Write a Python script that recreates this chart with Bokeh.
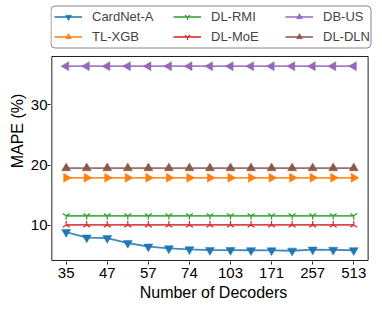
import math
from bokeh.plotting import figure
from bokeh.models import Legend, LegendItem, FixedTicker, Range1d, BoxAnnotation
from bokeh.embed import file_html
from bokeh.resources import INLINE

decoders = [35, 41, 47, 52, 57, 64, 74, 86, 103, 128, 171, 205, 257, 342, 513]
tick_labels = ["35", "47", "57", "74", "103", "171", "257", "513"]
y_ticks = [10, 20, 30]

cardnet_a = [8.9, 8.0, 7.9, 7.1, 6.5, 6.2, 6.05, 5.92, 5.92, 5.9, 5.88, 5.82, 6.0, 5.96, 5.9]
tl_xgb = [17.9, 17.9, 17.9, 17.9, 17.9, 17.9, 17.9, 17.9, 17.9, 17.9, 17.9, 17.9, 17.9, 17.9, 17.9]
dl_rmi = [11.6, 11.6, 11.6, 11.6, 11.6, 11.6, 11.6, 11.6, 11.6, 11.6, 11.6, 11.6, 11.6, 11.6, 11.6]
dl_moe = [10.1, 10.1, 10.1, 10.1, 10.1, 10.1, 10.1, 10.1, 10.1, 10.1, 10.1, 10.1, 10.1, 10.1, 10.1]
db_us = [36.4, 36.4, 36.4, 36.4, 36.4, 36.4, 36.4, 36.4, 36.4, 36.4, 36.4, 36.4, 36.4, 36.4, 36.4]
dl_dln = [19.5, 19.5, 19.5, 19.5, 19.5, 19.5, 19.5, 19.5, 19.5, 19.5, 19.5, 19.5, 19.5, 19.5, 19.5]

FONT = "Liberation Sans"
xs = list(range(len(decoders)))

# axes box of the data area (matplotlib-like limits)
X_LO, X_HI = -0.7, 14.7
Y_LO, Y_HI = 4.2, 38.0

series = [
    ("CardNet-A", cardnet_a, "#1f77b4", "inverted_triangle", 0.0),
    ("TL-XGB", tl_xgb, "#ff7f0e", "triangle", -math.pi / 2),
    ("DL-RMI", dl_rmi, "#2ca02c", "y", 0.0),
    ("DL-MoE", dl_moe, "#d62728", "y", math.pi),
    ("DB-US", db_us, "#9467bd", "triangle", math.pi / 2),
    ("DL-DLN", dl_dln, "#8c564b", "triangle", 0.0),
]

# frame extends upward/right to hold the legend; the visible axes box is drawn separately
p = figure(width=380, height=305, output_backend="svg", toolbar_location=None,
           x_range=Range1d(-0.764, 15.108), y_range=Range1d(4.035, 47.28),
           min_border_left=50, min_border_right=4, min_border_top=0, min_border_bottom=44)
p.xgrid.visible = False
p.ygrid.visible = False
p.outline_line_color = None

axes_box = BoxAnnotation(left=X_LO, right=X_HI, bottom=Y_LO, top=Y_HI,
                         fill_alpha=0, line_color="#222222", line_width=1, line_alpha=1.0)
p.add_layout(axes_box)

p.xaxis.ticker = FixedTicker(ticks=xs[::2])
p.xaxis.major_label_overrides = {i: lab for i, lab in zip(xs[::2], tick_labels)}
p.yaxis.ticker = FixedTicker(ticks=y_ticks)
for ax in (p.xaxis[0], p.yaxis[0]):
    ax.axis_line_color = None
    ax.major_tick_in = 0
    ax.major_tick_out = 3
    ax.minor_tick_line_color = None
    ax.major_tick_line_color = "#222222"
    ax.major_label_text_font = FONT
    ax.major_label_text_font_size = "15px"
    ax.major_label_text_color = "black"
    ax.axis_label_text_font = FONT
    ax.axis_label_text_font_size = "16px"
    ax.axis_label_text_font_style = "normal"
    ax.axis_label_text_color = "black"
p.xaxis.axis_label = "Number of Decoders"
p.yaxis.axis_label = "MAPE (%)"
p.xaxis.major_label_standoff = 3
p.xaxis.axis_label_standoff = 3
p.yaxis.major_label_standoff = 0
p.yaxis.axis_label_standoff = 2

items = []
for name, ys, color, marker, ang in series:
    lr = p.line(xs, ys, line_color=color, line_width=1.8, line_alpha=0.85)
    if marker == "y":
        sr = p.scatter(xs, ys, marker=marker, angle=ang, size=8, line_color=color,
                       line_width=1.2, fill_color=color)
    else:
        sr = p.scatter(xs, ys, marker=marker, angle=ang, size=9, line_color=color,
                       fill_color=color, line_width=0.5)
    items.append(LegendItem(label=name, renderers=[lr, sr]))

legend_box = BoxAnnotation(left=50.5, right=370.5, top=5.5, bottom=47.5,
                           left_units="canvas", right_units="canvas",
                           top_units="canvas", bottom_units="canvas",
                           fill_color="white", fill_alpha=1.0,
                           line_color="#888888", line_width=1, line_alpha=1.0,
                           border_radius=4)
p.add_layout(legend_box)

col_x = [4, 123, 235]
for c in range(3):
    leg = Legend(items=items[2 * c:2 * c + 2], location=(col_x[c], 217.5),
                 orientation="vertical", padding=0, spacing=5, margin=0,
                 label_height=15, glyph_height=15, glyph_width=28, label_standoff=10,
                 label_text_font=FONT, label_text_font_size="13px",
                 border_line_alpha=0, background_fill_alpha=0)
    p.add_layout(leg)

open("out.html", "w").write(file_html(p, INLINE))
